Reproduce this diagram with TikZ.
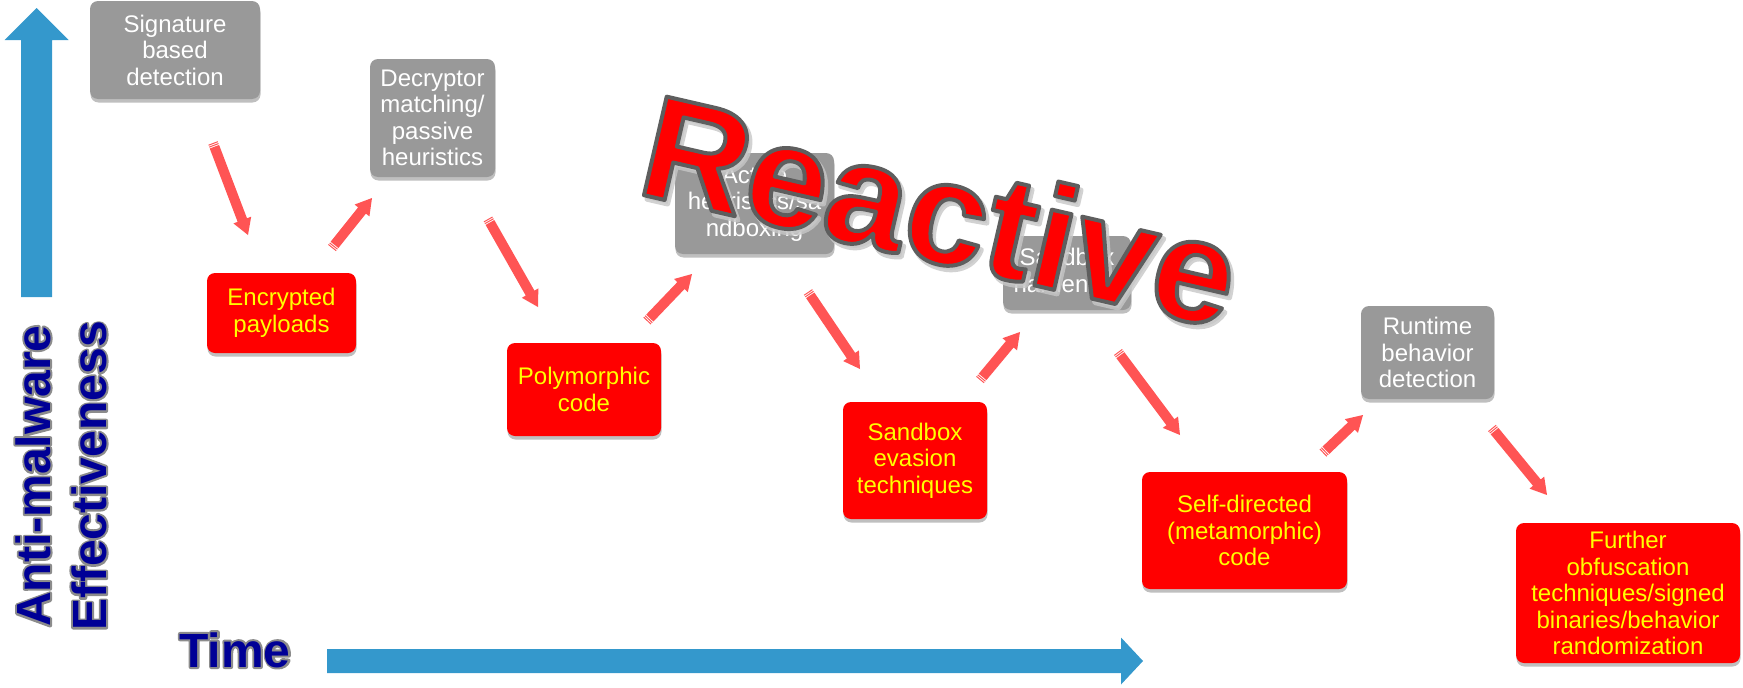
\documentclass[tikz,border=0pt]{standalone}
\usepackage{fontspec}
\setmainfont{Liberation Sans}
\usetikzlibrary{calc,shadows}

\definecolor{stagegrey}{RGB}{153,153,153}
\definecolor{stagered}{RGB}{255,0,0}
\definecolor{stageyellow}{RGB}{255,255,0}
\definecolor{linkred}{RGB}{255,84,84}
\definecolor{axisblue}{RGB}{52,152,204}
\definecolor{axisnavy}{RGB}{0,0,150}
\definecolor{haze}{RGB}{140,140,140}

\newcommand\stagefont{\fontsize{24}{26.5}\selectfont}
\newcommand\axisfont{\fontsize{48}{56}\selectfont\bfseries}
\newcommand\bannerfont{\fontsize{147}{150}\selectfont\bfseries}

% text filled in the current colour and stroked round its outline:
% #1 stroke grey level, #2 stroke width, #3 text
\newcommand\rimmed[3]{%
  \special{pdf:literal direct 2 Tr #2 w 1 j #1 G}#3\special{pdf:literal direct 0 Tr}}

% block arrow: fill style, tail, tip, half shaft width, half head width, head length
\newcommand\blockarrow[6]{%
  \coordinate (neck) at ($(#3)!#6!(#2)$);
  \fill[#1] ($(#2)!#4!90:(#3)$) -- ($(neck)!#4!90:(#3)$) -- ($(neck)!#5!90:(#3)$) -- (#3)
    -- ($(neck)!#5!-90:(#3)$) -- ($(neck)!#4!-90:(#3)$) -- ($(#2)!#4!-90:(#3)$) -- cycle;
}
% red link with a striped tail, from one named point to another
\newcommand\stripedlink[2]{%
  \coordinate (shaftstart) at ($(#1)!4pt!(#2)$);
  \blockarrow{linkred}{shaftstart}{#2}{5pt}{9.5pt}{16pt}
  \draw[linkred, line width=10pt] (#1) -- ($(#1)!1pt!(#2)$);
  \draw[linkred, line width=10pt] ($(#1)!2pt!(#2)$) -- ($(#1)!3pt!(#2)$);
}

\begin{document}
\begin{tikzpicture}[x=1pt, y=-1pt,
  stage/.style={rounded corners=8pt, align=center, inner sep=0pt, font=\stagefont,
    drop shadow={shadow xshift=0.5pt, shadow yshift=-3.5pt, opacity=0.25, fill=black}},
  defence/.style={stage, fill=stagegrey, text=white},
  attack/.style={stage, fill=stagered, text=stageyellow},
  axislabel/.style={font=\axisfont, inner sep=0pt},
  banner/.style={font=\bannerfont, rotate=-13, anchor=base, inner sep=0pt},
]
\useasboundingbox (0,0) rectangle (1743,688);

% axes
\coordinate (ybase) at (36.5,297);
\coordinate (ytip) at (36.5,8);
\blockarrow{axisblue}{ybase}{ytip}{15.5pt}{32pt}{32pt}
\coordinate (tbase) at (327,661);
\coordinate (ttip) at (1143,661);
\blockarrow{axisblue}{tbase}{ttip}{12pt}{23.5pt}{22pt}

% axis titles: a grey halo underneath, navy lettering on top
\node[axislabel, rotate=90, align=center, text=haze] (yaxishalo) at (61,476)
  {\rimmed{0.55}{4}{Anti-malware}\\\rimmed{0.55}{4}{Effectiveness}};
\node[axislabel, rotate=90, align=center, text=axisnavy] (yaxis) at (yaxishalo)
  {Anti-malware\\Effectiveness};
\node[axislabel, anchor=base, text=haze] (xaxishalo) at (235,667) {\rimmed{0.55}{4}{Time}};
\node[axislabel, text=axisnavy] (xaxis) at (xaxishalo) {Time};

% defence measures
\node[defence, minimum width=170pt, minimum height=98pt] (sig) at (175,50) {Signature\\based\\detection};
\node[defence, minimum width=125pt, minimum height=118pt] (dec) at (432.5,118) {Decryptor\\matching/\\passive\\heuristics};
\node[defence, minimum width=159pt, minimum height=101pt] (act) at (754.5,203.5) {Active\\heuristics/sa\\ndboxing};
\node[defence, minimum width=128pt, minimum height=74pt] (shd) at (1067,273) {Sandbox\\hardening};
\node[defence, minimum width=133pt, minimum height=93pt] (run) at (1427.5,352.5) {Runtime\\behavior\\detection};

% malware counter-moves
\node[attack, minimum width=149pt, minimum height=80pt] (enc) at (281.5,313) {Encrypted\\payloads};
\node[attack, minimum width=154pt, minimum height=93pt] (poly) at (584,389.5) {Polymorphic\\code};
\node[attack, minimum width=144pt, minimum height=117pt] (sev) at (915,460.5) {Sandbox\\evasion\\techniques};
\node[attack, minimum width=205pt, minimum height=117pt] (self) at (1244.5,530.5) {Self-directed\\(metamorphic)\\code};
\node[attack, minimum width=224pt, minimum height=140pt] (fur) at (1628,593) {Further\\obfuscation\\techniques/signed\\binaries/behavior\\randomization};

% links between the stages
\coordinate (l1s) at (213,143);  \coordinate (l1e) at (248,235);
\coordinate (l2s) at (332,248);  \coordinate (l2e) at (372,198);
\coordinate (l3s) at (488,219);  \coordinate (l3e) at (538,307);
\coordinate (l4s) at (647,321);  \coordinate (l4e) at (692,274);
\coordinate (l5s) at (808,292);  \coordinate (l5e) at (860,369);
\coordinate (l6s) at (980,380);  \coordinate (l6e) at (1020,332);
\coordinate (l7s) at (1118,352); \coordinate (l7e) at (1180,435);
\coordinate (l8s) at (1323,453); \coordinate (l8e) at (1363,415);
\coordinate (l9s) at (1492,428); \coordinate (l9e) at (1547,495);
\foreach \k in {1,...,9} {\stripedlink{l\k s}{l\k e}}

% slanted headline over the middle stages, with a soft shadow
\node[banner, text=black!22, opacity=0.8] (bannershade) at (932,265) {\rimmed{0.78}{5}{Reactive}};
\node[banner, text=stagered] (bannertext) at (929,261) {\rimmed{0.37}{4}{Reactive}};
\end{tikzpicture}
\end{document}
